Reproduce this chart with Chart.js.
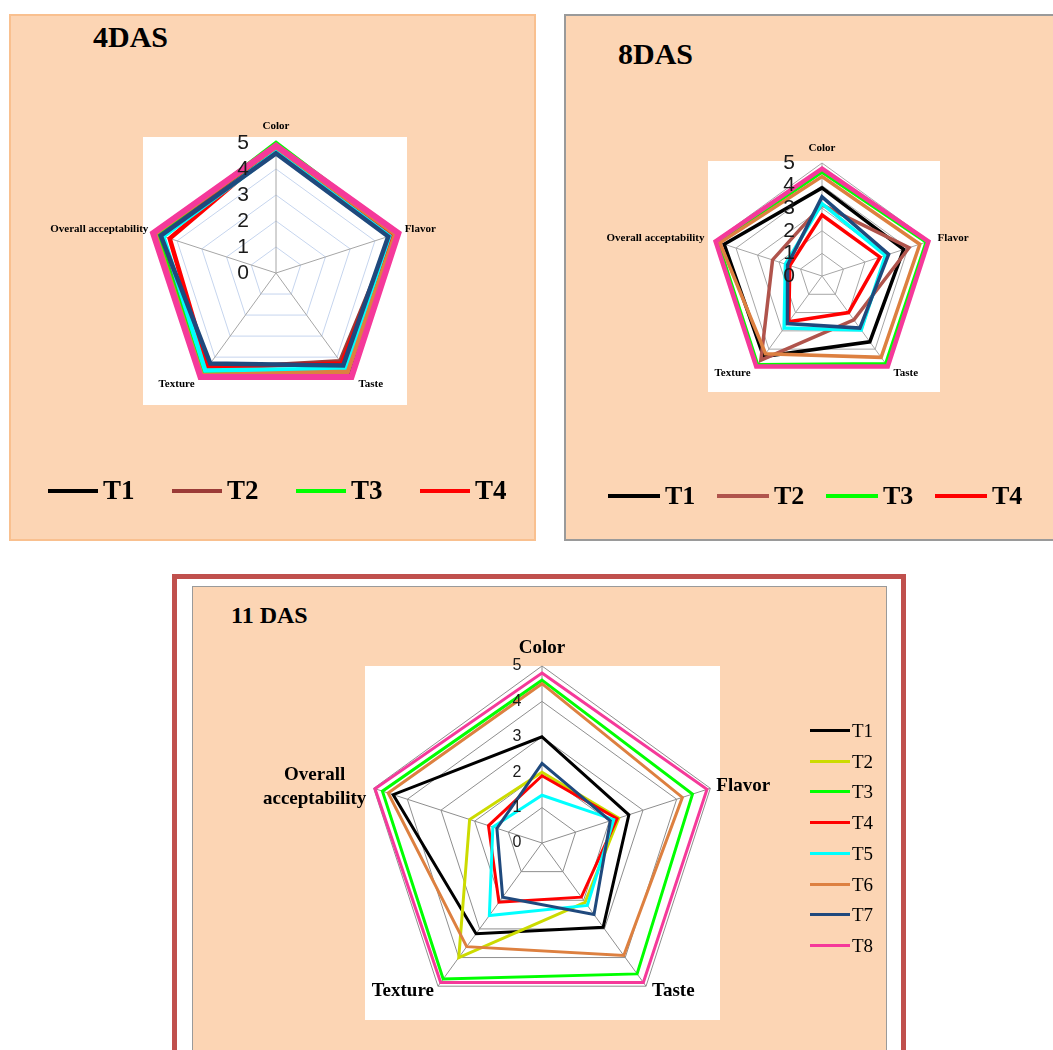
<!DOCTYPE html>
<html>
<head>
<meta charset="utf-8">
<script src="https://cdn.jsdelivr.net/npm/chart.js@4.4.1/dist/chart.umd.min.js"></script>
<style>
  body{margin:0;width:1053px;height:1050px;overflow:hidden;background:#fff;position:relative;font-family:"Liberation Serif","Times New Roman",serif}
  .box{position:absolute;box-sizing:border-box}
  .peach{background:#FCD5B4}
  .plot{position:absolute;background:#fff}
  canvas{position:absolute}
  .title{position:absolute;font-weight:bold;line-height:1;white-space:nowrap}
  .legend{position:absolute;display:flex}
  .item{display:flex;align-items:center}
  .item span{line-height:1}
</style>
</head>
<body>

<div class="box peach" style="left:9px;top:14px;width:527px;height:527px;border:2px solid #F9C08F"></div>
<div class="box peach" style="left:564px;top:14px;width:520px;height:527px;border:2px solid #9A9A9A"></div>
<div class="box" style="left:172px;top:574px;width:734px;height:520px;border:5px solid #C0504D;background:#fff"></div>
<div class="box peach" style="left:192px;top:586px;width:695px;height:520px;border:1.5px solid #9A9A9A"></div>

<div class="plot" style="left:143px;top:137px;width:264px;height:268px"></div>
<div class="plot" style="left:708px;top:161px;width:232px;height:231px"></div>
<div class="plot" style="left:365px;top:666px;width:355px;height:354px"></div>

<div class="title" style="left:93px;top:22px;font-size:30px">4DAS</div>
<div class="title" style="left:618px;top:39px;font-size:30px">8DAS</div>
<div class="title" style="left:231px;top:603px;font-size:24px">11 DAS</div>

<canvas id="c4" width="526" height="526" style="left:9px;top:14px"></canvas>
<canvas id="c8" width="489" height="526" style="left:564px;top:14px"></canvas>
<canvas id="c11" width="693" height="464" style="left:193px;top:586px"></canvas>

<div id="leg4" class="legend" style="left:48px;top:477px"></div>
<div id="leg8" class="legend" style="left:608px;top:483px"></div>
<div id="leg11" class="legend" style="left:810px;top:715px;flex-direction:column"></div>

<script>
// ---------- data ----------
const AXES = ['Color', 'Flavor', 'Taste', 'Texture', 'Overall acceptability'];
const TREATMENTS = ['T1', 'T2', 'T3', 'T4', 'T5', 'T6', 'T7', 'T8'];
const TICKS = [0, 1, 2, 3, 4, 5];

// sensory scores, one row per treatment T1..T8, columns in AXES order
const DAS4 = [
  [4.70, 4.60, 4.80, 4.50, 4.73],
  [4.80, 4.70, 4.20, 4.55, 4.75],
  [5.00, 4.85, 4.63, 4.80, 4.82],
  [4.80, 4.68, 4.30, 4.47, 4.30],
  [4.65, 4.58, 4.55, 4.63, 4.56],
  [4.85, 4.82, 4.70, 4.86, 4.89],
  [4.60, 4.54, 4.40, 4.30, 4.66],
  [4.90, 4.95, 4.94, 4.94, 4.97]
];
const DAS8 = [
  [3.90, 3.80, 3.60, 4.40, 4.55],
  [3.15, 4.05, 2.40, 4.60, 2.30],
  [4.60, 4.85, 4.80, 4.85, 4.85],
  [2.70, 2.70, 2.00, 2.50, 1.50],
  [3.20, 2.95, 2.95, 2.85, 1.70],
  [4.40, 4.55, 4.45, 4.25, 4.75],
  [3.50, 3.10, 2.85, 2.60, 1.60],
  [4.75, 4.95, 4.95, 4.95, 4.95]
];
const DAS11 = [
  [3.00, 2.58, 2.94, 3.17, 4.42],
  [2.00, 2.28, 2.07, 4.00, 2.15],
  [4.60, 4.47, 4.57, 4.75, 4.74],
  [1.90, 2.23, 1.89, 2.07, 1.59],
  [1.35, 2.13, 2.18, 2.53, 1.46],
  [4.50, 4.17, 3.93, 3.62, 4.57],
  [2.25, 2.03, 2.50, 1.89, 1.34],
  [4.80, 4.90, 4.87, 4.87, 4.96]
];

const COLORS_4  = ['#000000', '#9B3B37', '#00FF00', '#FF0000', '#00FFFF', '#DD8040', '#1F497D', '#F5399A'];
const COLORS_8  = ['#000000', '#B0544C', '#00FF00', '#FF0000', '#00FFFF', '#DD8040', '#1F497D', '#F5399A'];
const COLORS_11 = ['#000000', '#CCDB00', '#00FF00', '#FF0000', '#00FFFF', '#DD8040', '#1F497D', '#F5399A'];

// ---------- drawing ----------
function axisText(cfg){
  return {
    id: 'axisText',
    afterDraw(chart){
      const s = chart.scales.r, ctx = chart.ctx;
      ctx.save();
      ctx.textBaseline = 'middle';
      ctx.textAlign = 'center';
      ctx.fillStyle = '#1a1a1a';
      ctx.font = cfg.tickFont;
      TICKS.forEach(v => {
        ctx.fillText(String(v), s.xCenter + cfg.tickDx, s.yCenter - s.getDistanceFromCenterForValue(v));
      });
      ctx.fillStyle = '#000';
      ctx.font = cfg.labelFont;
      AXES.forEach((name, i) => {
        const p = s.getPointPosition(i, s.drawingArea);
        const o = cfg.offsets[i];
        ctx.textAlign = o[2];
        const lines = (cfg.wrap && cfg.wrap[i]) ? cfg.wrap[i] : [name];
        lines.forEach((ln, k) => ctx.fillText(ln, p.x + o[0], p.y + o[1] + k * (cfg.lineH || 0)));
      });
      ctx.restore();
    }
  };
}

function radar(id, rows, colors, cfg){
  const canvas = document.getElementById(id);
  const W = canvas.width, H = canvas.height;
  return new Chart(canvas, {
    type: 'radar',
    data: {
      labels: AXES,
      datasets: rows.map((vals, i) => ({
        label: TREATMENTS[i],
        data: vals,
        borderColor: colors[i],
        backgroundColor: colors[i],
        borderWidth: i === 7 ? cfg.lw + cfg.pinkExtra : cfg.lw,
        pointRadius: 0,
        fill: false,
        tension: 0,
        clip: false,
        order: rows.length - i
      }))
    },
    options: {
      responsive: false,
      animation: false,
      layout: { padding: { left: cfg.cx - cfg.r, top: cfg.cy - cfg.r, right: W - cfg.cx - cfg.r, bottom: H - cfg.cy - cfg.r } },
      plugins: { legend: { display: false }, tooltip: { enabled: false } },
      scales: {
        r: {
          min: 0, max: 5,
          ticks: { stepSize: 1, display: false },
          pointLabels: { display: false },
          grid: { color: cfg.grid, lineWidth: 1 },
          angleLines: { color: cfg.angle, lineWidth: 1 }
        }
      }
    },
    plugins: [axisText(cfg)]
  });
}

radar('c4', DAS4, COLORS_4, {
  cx: 267, cy: 259, r: 130, lw: 4.5, pinkExtra: 1.5,
  grid: '#C6D5EE', angle: '#A6A6A6',
  tickFont: '21px "Liberation Sans", sans-serif', tickDx: -33,
  labelFont: 'bold 11px "Liberation Serif", serif',
  offsets: [[0, -17, 'center'], [5, -4, 'left'], [6, 6, 'left'], [-5, 6, 'right'], [-4, -4, 'right']]
});

radar('c8', DAS8, COLORS_8, {
  cx: 258, cy: 262, r: 113, lw: 3.5, pinkExtra: 1,
  grid: '#A6A6A6', angle: '#A6A6A6',
  tickFont: '21px "Liberation Sans", sans-serif', tickDx: -33,
  labelFont: 'bold 11px "Liberation Serif", serif',
  offsets: [[0, -15, 'center'], [8, -3, 'left'], [5, 6, 'left'], [-5, 6, 'right'], [-10, -3, 'right']]
});

radar('c11', DAS11, COLORS_11, {
  cx: 349, cy: 257, r: 177, lw: 3, pinkExtra: 0,
  grid: '#8E8E8E', angle: '#8E8E8E',
  tickFont: '16px "Liberation Sans", sans-serif', tickDx: -25,
  labelFont: 'bold 19px "Liberation Serif", serif',
  offsets: [[0, -18, 'center'], [6, -2, 'left'], [6, 5, 'left'], [-4, 5, 'right'], [-59, -13, 'center']],
  wrap: { 4: ['Overall', 'acceptability'] }, lineH: 24
});

// ---------- legends ----------
function legend(id, n, colors, o){
  const el = document.getElementById(id);
  TREATMENTS.slice(0, n).forEach((t, i) => {
    const it = document.createElement('div');
    it.className = 'item';
    it.style.width = o.itemW ? o.itemW + 'px' : 'auto';
    it.style.height = o.itemH ? o.itemH + 'px' : 'auto';
    it.innerHTML = '<div style="width:' + o.lineW + 'px;height:' + o.lineH + 'px;background:' + colors[i] +
      ';margin-right:' + o.gap + 'px"></div><span style="font-size:' + o.fs + 'px;font-weight:' + o.fw + '">' + t + '</span>';
    el.appendChild(it);
  });
}
legend('leg4', 4, COLORS_4, { itemW: 124, itemH: 27, lineW: 50, lineH: 4, gap: 5, fs: 27, fw: 'bold' });
legend('leg8', 4, COLORS_8, { itemW: 109, itemH: 26, lineW: 52, lineH: 4, gap: 5, fs: 26, fw: 'bold' });
legend('leg11', 8, COLORS_11, { itemH: 30.76, lineW: 40, lineH: 3, gap: 2, fs: 19, fw: 'normal' });
</script>
</body>
</html>
